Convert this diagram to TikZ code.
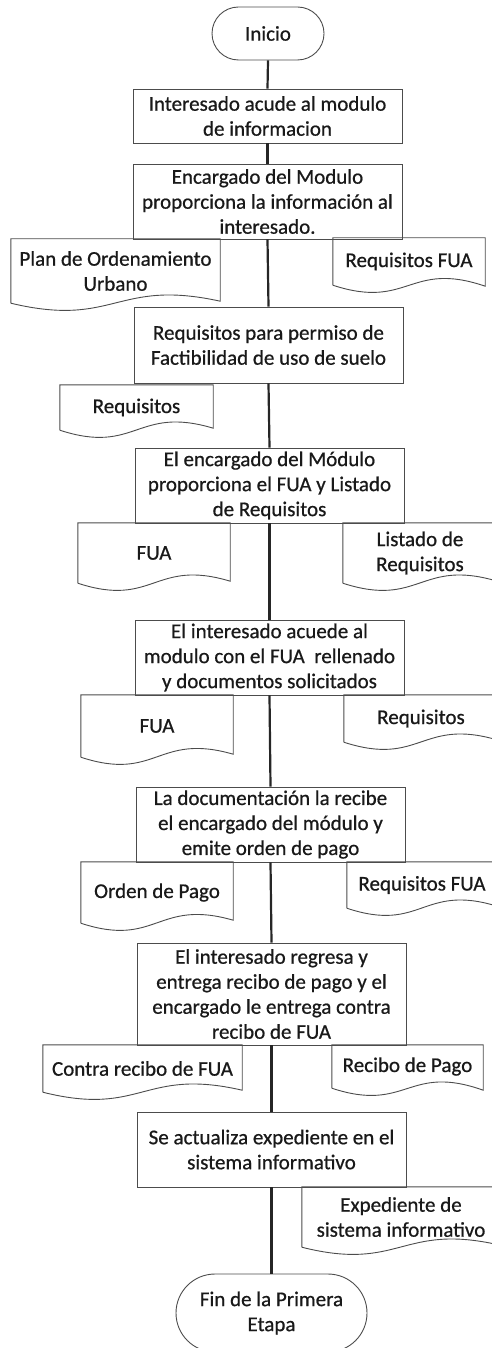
\documentclass[tikz,border=0pt]{standalone}
\usepackage{fontspec}
\setmainfont{Carlito}[FakeBold=0.7]
\usetikzlibrary{shapes.misc}
\newcommand\docoutline[2]{\draw[docline] (#1.south west) -- (#1.north west) -- (#1.north east) -- ([yshift=#2pt]#1.south east) .. controls ([yshift=25pt]#1.south) and ([yshift=-25pt]#1.south) .. (#1.south west);}
\begin{document}
\begin{tikzpicture}[x=1pt,y=-1pt,
  txt/.style={inner sep=0pt, align=center, font=\fontsize{21}{25}\selectfont, text=black!90},
  box/.style={txt, draw=black!70, line width=0.9pt, rectangle},
  term/.style={box, rounded rectangle},
  doctext/.style={txt, rectangle},
  docline/.style={draw=black!70, line width=0.9pt},
  flow/.style={line width=2.2pt, draw=black!85}]
\useasboundingbox (0,0) rectangle (492,1348);
\clip (0,0) rectangle (492,1348);

% main steps
\node[term, minimum width=112pt, minimum height=53pt] (start) at (268,33.5) {Inicio};
\node[box, minimum width=269pt, minimum height=54pt] (b1) at (267.5,116) {Interesado acude al modulo\\de informacion};
\node[box, minimum width=269pt, minimum height=75pt] (b2) at (267.5,201.5) {Encargado del Modulo\\proporciona la información al\\interesado.};
\node[box, minimum width=269pt, minimum height=76pt] (b3) at (268.5,345) {Requisitos para permiso de\\Factibilidad de uso de suelo};
\node[box, minimum width=269pt, minimum height=75pt] (b4) at (269.5,485.5) {El encargado del Módulo\\proporciona el FUA y Listado\\de Requisitos};
\node[box, minimum width=269pt, minimum height=75pt] (b5) at (269.5,657.5) {El interesado acuede al\\modulo con el FUA\ \ rellenado\\y documentos solicitados};
\node[box, minimum width=269pt, minimum height=75pt] (b6) at (270.5,824.5) {La documentación la recibe\\el encargado del módulo y\\emite orden de pago};
\node[box, minimum width=269pt, minimum height=102pt] (b7) at (271.5,994) {El interesado regresa y\\entrega recibo de pago y el\\encargado le entrega contra\\recibo de FUA};
\node[box, minimum width=269pt, minimum height=75pt] (b8) at (271.5,1149.5) {Se actualiza expediente en el\\sistema informativo};
\node[term, minimum width=191pt, minimum height=78pt] (end) at (271.5,1313) {Fin de la Primera\\Etapa};

% connectors
\draw[flow] (start.south) -- (b1.north);
\draw[flow] (b1.south) -- (b2.north);
\draw[flow] (b2.south) -- (b3.north);
\draw[flow] (b3.south) -- (b4.north);
\draw[flow] (b4.south) -- (b5.north);
\draw[flow] (b5.south) -- (b6.north);
\draw[flow] (b6.south) -- (b7.north);
\draw[flow] (b7.south) -- (b8.north);
\draw[flow] (b8.south) -- (end.north);

% documents
\node[doctext, minimum width=209pt, minimum height=64pt] (d1) at (115.5,271) {Plan de Ordenamiento\\Urbano};
\docoutline{d1}{2}
\node[doctext, minimum width=152pt, minimum height=47pt] (d2) at (409,261.5) {Requisitos FUA};
\docoutline{d2}{-1}
\node[doctext, minimum width=153pt, minimum height=45pt] (d3) at (136.5,407.5) {Requisitos};
\docoutline{d3}{2}
\node[doctext, minimum width=152pt, minimum height=60pt] (d4) at (154,553) {FUA};
\docoutline{d4}{2}
\node[doctext, minimum width=154pt, minimum height=60pt] (d5) at (420,553) {Listado de\\Requisitos};
\docoutline{d5}{2}
\node[doctext, minimum width=152pt, minimum height=62pt] (d6) at (157,726) {FUA};
\docoutline{d6}{3}
\node[doctext, minimum width=154pt, minimum height=47pt] (d7) at (421,718.5) {Requisitos};
\docoutline{d7}{2}
\node[doctext, minimum width=152pt, minimum height=61pt] (d8) at (157,892.5) {Orden de Pago};
\docoutline{d8}{3}
\node[doctext, minimum width=150pt, minimum height=46pt] (d9) at (422,885) {Requisitos FUA};
\docoutline{d9}{2}
\node[doctext, minimum width=199pt, minimum height=47pt] (d10) at (142.5,1068.5) {Contra recibo de FUA};
\docoutline{d10}{2}
\node[doctext, minimum width=151pt, minimum height=43pt] (d11) at (407.5,1066.5) {Recibo de Pago};
\docoutline{d11}{-2}
\node[doctext, minimum width=198pt, minimum height=60pt] (d12) at (401,1217) {Expediente de\\sistema informativo};
\docoutline{d12}{2}
\end{tikzpicture}
\end{document}
